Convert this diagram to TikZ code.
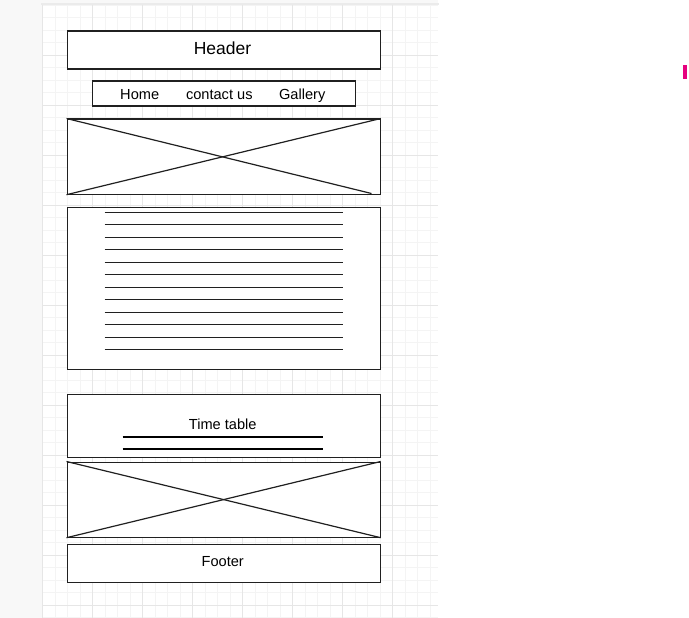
\documentclass[tikz,border=0pt]{standalone}
\usepackage{fontspec}
\setmainfont{Liberation Sans}
\definecolor{strip}{HTML}{F8F8F8}
\definecolor{minorg}{HTML}{F4F4F4}
\definecolor{majorg}{HTML}{E6E6E6}
\definecolor{edge}{HTML}{202020}
\definecolor{pinkmark}{HTML}{E6007E}
\tikzset{
  box/.style={draw=edge, line width=1.2pt, fill=white, rectangle, inner sep=0pt, anchor=north west},
  crossline/.style={draw=edge, line width=1.2pt},
  textline/.style={draw=edge, line width=1.4pt},
  ttline/.style={draw=black, line width=2.4pt},
  lbl/.style={font=\fontsize{14.6}{16}\selectfont, inner sep=0pt, anchor=base},
  hlbl/.style={font=\fontsize{17.5}{20}\selectfont, inner sep=0pt, anchor=base}
}
\begin{document}
\begin{tikzpicture}[x=1pt,y=-1pt]
\useasboundingbox (0,0) rectangle (689,618);
% background
\fill[white] (0,0) rectangle (689,618);
\fill[strip] (0,0) rectangle (42,618);
\fill[strip] (0,0) rectangle (438,5);
\fill[black!8] (40.5,3.5) rectangle (438.5,5);
\fill[white] (42,5) rectangle (437.5,618);
% grid
\foreach \i in {0,...,31} {\draw[minorg, line width=0.7pt] ({42.5+12.5*\i},5) -- ({42.5+12.5*\i},618);}
\foreach \j in {0,...,49} {\draw[minorg, line width=0.7pt] (42,{5+12.5*\j}) -- (437.5,{5+12.5*\j});}
\foreach \i in {0,...,7} {\draw[majorg, line width=0.7pt] ({42.5+50*\i},5) -- ({42.5+50*\i},618);}
\foreach \j in {1,...,12} {\draw[majorg, line width=0.7pt] (42,{5+50*\j}) -- (437.5,{5+50*\j});}
% pink mark
\fill[pinkmark] (683,65) rectangle (686.5,79);
% header
\node[box, minimum width=313pt, minimum height=38pt] (header) at (66.5,30.5) {};
\node[hlbl] (htext) at (222.5,55) {Header};
% nav
\node[box, minimum width=263pt, minimum height=25pt] (nav) at (91.5,80.5) {};
\node[lbl] (home) at (139.7,99.2) {Home};
\node[lbl] (contact) at (219.3,99.2) {contact us};
\node[lbl] (gallery) at (302.2,99.2) {Gallery};
% image 1
\node[box, minimum width=313pt, minimum height=75pt] (img1) at (66.5,118.5) {};
\coordinate (img1end) at (371.5,193.5);
\draw[crossline] (img1.north west) -- (img1end);
\draw[crossline] (img1.south west) -- (img1.north east);
% text block
\node[box, minimum width=313pt, minimum height=162pt] (textbox) at (66.5,206.5) {};
\foreach \k in {0,...,11} {
  \pgfmathsetmacro{\yy}{floor(212+12.5*\k)+0.5}
  \coordinate (tl\k a) at (104.5,\yy);
  \coordinate (tl\k b) at (342.5,\yy);
  \draw[textline] (tl\k a) -- (tl\k b);
}
% time table
\node[box, minimum width=313pt, minimum height=63pt] (timetable) at (66.5,393.5) {};
\node[lbl] (tttext) at (222.7,429.7) {Time table};
\coordinate (tt1a) at (122.5,437);
\coordinate (tt1b) at (322.5,437);
\coordinate (tt2a) at (122.5,449);
\coordinate (tt2b) at (322.5,449);
\draw[ttline] (tt1a) -- (tt1b);
\draw[ttline] (tt2a) -- (tt2b);
% image 2
\node[box, minimum width=313pt, minimum height=75pt] (img2) at (66.5,461.5) {};
\draw[crossline] (img2.north west) -- (img2.south east);
\draw[crossline] (img2.south west) -- (img2.north east);
% footer
\node[box, minimum width=313pt, minimum height=38pt] (footer) at (66.5,543.5) {};
\node[lbl] (ftext) at (222.7,566.7) {Footer};
\end{tikzpicture}
\end{document}
